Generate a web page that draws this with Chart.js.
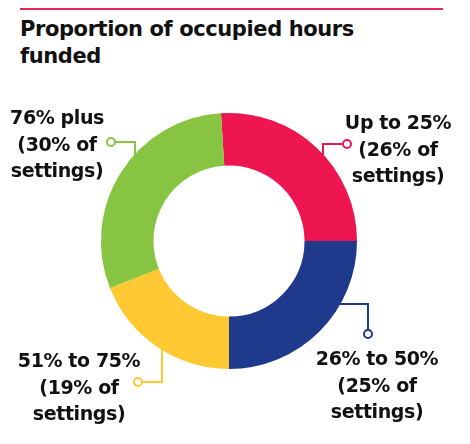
<!DOCTYPE html>
<html>
<head>
<meta charset="utf-8">
<script src="https://cdn.jsdelivr.net/npm/chart.js@4.4.1/dist/chart.umd.min.js"></script>
<style>
  body { margin: 0; background: #fff; }
  #wrap { position: relative; width: 470px; height: 444px; }
  #regla { position: absolute; left: 20px; top: 8px; width: 423px; height: 2px; background: #e8265a; }
  #titulo { position: absolute; left: 20px; top: 16px; margin: 0; font: 700 21px/27px "DejaVu Sans", sans-serif; letter-spacing: -0.4px; color: #111; }
  canvas { position: absolute; left: 0; top: 0; }
</style>
</head>
<body>
<div id="wrap">
  <div id="regla"></div>
  <h1 id="titulo">Proportion of occupied hours<br>funded</h1>
  <canvas id="grafico" width="470" height="444"></canvas>
</div>
<script>
// --- DATOS ---
const categorias = ['Up to 25%', '26% to 50%', '51% to 75%', '76% plus'];
const porcentajeAjustes = [26, 25, 19, 30];
const colores = ['#ed1651', '#1f3a8c', '#fec933', '#86c441'];

// posicion de cada etiqueta (centro del texto, primera linea base)
const posEtiquetas = [
    { x: 398, y: 129 },
    { x: 377, y: 365 },
    { x: 79, y: 367 },
    { x: 57, y: 124 }
];

// lineas guia, relativas al centro del anillo: [[x,y],...] ; el ultimo punto lleva circulo
const guias = [
    [[94, -80], [94, -97], [118, -97]],
    [[110, 63], [139, 63], [139, 93]],
    [[-67, 105], [-67, 141], [-91, 141]],
    [[-94, -80], [-94, -99], [-118, -99]]
];

// --- PLUGIN: lineas y textos ---
const etiquetasPlugin = {
    id: 'etiquetas',
    beforeDatasetsDraw(chart) {
        const arco = chart.getDatasetMeta(0).data[0];
        const cx = arco.x, cy = arco.y;
        const ctx = chart.ctx;
        ctx.save();
        ctx.lineWidth = 2;
        guias.forEach((g, i) => {
            ctx.strokeStyle = colores[i];
            ctx.beginPath();
            g.forEach((p, j) => {
                if (j === 0) ctx.moveTo(cx + p[0], cy + p[1]);
                else ctx.lineTo(cx + p[0], cy + p[1]);
            });
            ctx.stroke();
        });
        ctx.restore();
    },
    afterDatasetsDraw(chart) {
        const arco = chart.getDatasetMeta(0).data[0];
        const cx = arco.x, cy = arco.y;
        const ctx = chart.ctx;
        ctx.save();
        // circulos al final de cada guia
        ctx.lineWidth = 2;
        guias.forEach((g, i) => {
            const p = g[g.length - 1];
            ctx.strokeStyle = colores[i];
            ctx.fillStyle = '#fff';
            ctx.beginPath();
            ctx.arc(cx + p[0], cy + p[1], 4, 0, Math.PI * 2);
            ctx.fill();
            ctx.stroke();
        });
        // textos
        ctx.fillStyle = '#111';
        ctx.font = 'bold 19px "DejaVu Sans", sans-serif';
        ctx.letterSpacing = '-0.4px';
        ctx.textAlign = 'center';
        ctx.textBaseline = 'alphabetic';
        categorias.forEach((cat, i) => {
            const lineas = [cat, '(' + porcentajeAjustes[i] + '% of', 'settings)'];
            const pos = posEtiquetas[i];
            lineas.forEach((t, j) => ctx.fillText(t, pos.x, pos.y + j * 26.5));
        });
        ctx.restore();
    }
};

// --- GRAFICO ---
const ctx = document.getElementById('grafico').getContext('2d');
const grafico = new Chart(ctx, {
    type: 'doughnut',
    data: {
        labels: categorias,
        datasets: [{
            data: porcentajeAjustes,
            backgroundColor: colores,
            borderWidth: 0
        }]
    },
    options: {
        responsive: false,
        animation: false,
        cutout: '59%',
        rotation: -3.6,
        layout: { padding: { left: 101, right: 113, top: 113, bottom: 75 } },
        plugins: {
            legend: { display: false },
            tooltip: { enabled: false }
        }
    },
    plugins: [etiquetasPlugin]
});
</script>
</body>
</html>
